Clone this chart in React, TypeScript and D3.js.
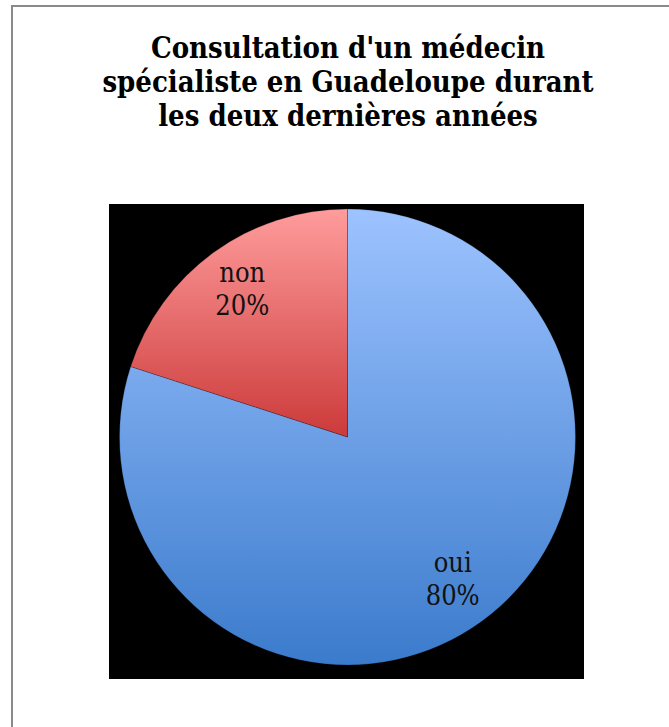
import { useMemo } from "react";
import * as d3 from "d3";

// chart data
const categories = ["oui", "non"];
const values = [80, 20];
const percentLabels = ["80%", "20%"];
const titleLines = [
  "Consultation d'un médecin",
  "spécialiste en Guadeloupe durant",
  "les deux dernières années",
];

interface Slice {
  label: string;
  value: number;
  pct: string;
}

const WIDTH = 669;
const HEIGHT = 727;

// slice gradients (top -> bottom)
const gradients: Record<string, [string, string]> = {
  oui: ["#9dc3ff", "#3b7bcc"],
  non: ["#ff9c9c", "#cc3a3a"],
};

const App = () => {
  const data: Slice[] = categories.map((c, i) => ({
    label: c,
    value: values[i],
    pct: percentLabels[i],
  }));

  const cx = 347.5;
  const cy = 437;
  const radius = 228;

  const arcs = useMemo(() => {
    return d3
      .pie<Slice>()
      .value((d) => d.value)
      .sort(null)
      .startAngle(0)
      .endAngle(2 * Math.PI)(data);
  }, []);

  const arcGen = d3.arc<d3.PieArcDatum<Slice>>().innerRadius(0).outerRadius(radius);
  // label positions, roughly 0.78 of the radius
  const labelArc = d3
    .arc<d3.PieArcDatum<Slice>>()
    .innerRadius(radius * 0.785)
    .outerRadius(radius * 0.785);

  const labelFont = "'DejaVu Serif Condensed', 'DejaVu Serif', serif";

  return (
    <div style={{ position: "absolute", left: 0, top: 0 }}>
      <svg width={WIDTH} height={HEIGHT} style={{ display: "block" }}>
        <defs>
          {categories.map((c) => (
            <linearGradient key={c} id={`grad-${c}`} x1="0" y1="0" x2="0" y2="1">
              <stop offset="0%" stopColor={gradients[c][0]} />
              <stop offset="100%" stopColor={gradients[c][1]} />
            </linearGradient>
          ))}
        </defs>
        <rect width={WIDTH} height={HEIGHT} fill="#ffffff" />
        {/* chart frame, runs off the right and bottom edges */}
        <rect
          x={12}
          y={6}
          width={WIDTH + 40}
          height={HEIGHT + 40}
          fill="none"
          stroke="#8a8a8a"
          strokeWidth={2}
        />
        {/* title */}
        <text
          textAnchor="middle"
          fontFamily={labelFont}
          fontWeight="bold"
          fontSize={29}
          fill="#000"
        >
          {titleLines.map((line, i) => (
            <tspan key={i} x={348} y={58 + i * 34}>
              {line}
            </tspan>
          ))}
        </text>
        {/* plot area */}
        <rect x={109} y={204} width={475} height={475} fill="#000000" />
        <g transform={`translate(${cx}, ${cy})`}>
          {arcs.map((a) => (
            <path
              key={a.data.label}
              d={arcGen(a) || ""}
              fill={`url(#grad-${a.data.label})`}
              stroke="#000"
              strokeOpacity={0.25}
              strokeWidth={0.8}
            />
          ))}
          {arcs.map((a) => {
            const [lx, ly] = labelArc.centroid(a);
            return (
              <text
                key={`lbl-${a.data.label}`}
                textAnchor="middle"
                fontFamily={labelFont}
                fontSize={27}
                fill="#111"
              >
                <tspan x={lx} y={ly - 10}>
                  {a.data.label}
                </tspan>
                <tspan x={lx} y={ly + 23}>
                  {a.data.pct}
                </tspan>
              </text>
            );
          })}
        </g>
      </svg>
    </div>
  );
};

export default App;
